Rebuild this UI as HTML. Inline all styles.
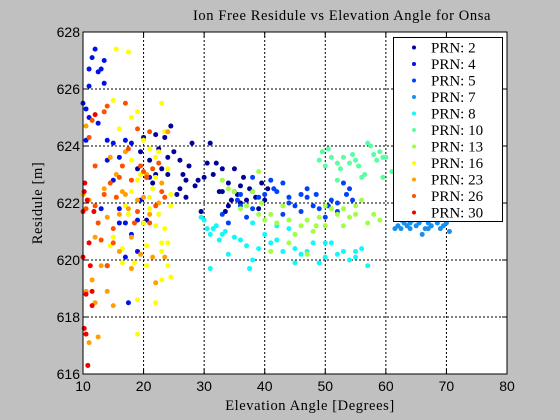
<!DOCTYPE html>
<html><head><meta charset="utf-8"><style>
html,body{margin:0;padding:0;background:#c0c0c0;}
svg{display:block;}
text{fill:#000;}
</style></head><body>
<svg id="chart" width="560" height="420" xmlns="http://www.w3.org/2000/svg" font-family="Liberation Sans, sans-serif">
<rect x="0" y="0" width="560" height="420" fill="#c0c0c0"/>
<rect x="83" y="32" width="424" height="342" fill="#fff"/>
<g id="grid"></g><g id="marks"></g><g id="axes"></g>
<text x="342" y="20" text-anchor="middle" font-family="Liberation Serif, serif" font-size="14.5" letter-spacing="0.6">Ion Free Residule vs Elevation Angle for Onsa</text>
<text x="310" y="410" text-anchor="middle" font-family="Liberation Serif, serif" font-size="14.5" letter-spacing="0.6">Elevation Angle [Degrees]</text>
<text transform="translate(42,203) rotate(-90)" text-anchor="middle" font-family="Liberation Serif, serif" font-size="14.5" letter-spacing="0.6">Residule [m]</text>
<g id="legend"></g>
</svg>
<script>
const xTicks=[10,20,30,40,50,60,70,80];
const yTicks=[616,618,620,622,624,626,628];
const seriesNames=["PRN: 2","PRN: 4","PRN: 5","PRN: 7","PRN: 8","PRN: 10","PRN: 13","PRN: 16","PRN: 23","PRN: 26","PRN: 30"];
const seriesColors=["#00009c","#0010e8","#0040ff","#1890f0","#10f8f8","#58ffa0","#a0ff40","#ffff00","#ffa000","#ff5000","#f00000"];
const p2=[[19,623.2],[19.5,623.8],[20,624.3],[20.5,622.9],[21,623.5],[21.5,622.7],[22,624.4],[22.5,623.9],[23,623.2],[23.5,624.3],[24,623],[24.5,624.7],[25,623.8],[25.5,622.3],[26,622.5],[26.5,623],[27,622.8],[27.5,623.3],[28,624.1],[28.5,622.6],[29,622.8],[29.5,621.7],[30,622.9],[30.5,623.4],[31,624.1],[31.5,623],[32,623.4],[32.5,622.4],[33,623.2],[33.5,621.7],[34,622.7],[34.5,622.1],[35,623.2],[35.5,622.3],[36,622.6],[36.5,622.9],[37,622.1],[37.5,622.5],[38,622.4],[38.5,622.2],[39,621.8],[39.5,622.7],[40,622.1],[40.5,622.5],[33,622.4],[34,621.9],[36,622.0],[26,623.5],[27,622.2],[22,623.0],[20.5,621.4],[24,623.6]];
const p4=[[10,625.5],[10.5,624.2],[11,626.7],[11.5,627.1],[11,626.1],[12,627.4],[12.5,626.6],[13,626.7],[13.5,627],[13.5,626.2],[10.5,625.3],[12.5,624.8],[11,625],[14,624.2],[15,624.1],[16,623.6],[17,624.2],[18,624.1],[14,623.5],[15,622.8],[16,621.3],[17,621.3],[18,620.9],[19,620.3],[17,620.1],[16,621.8],[14,619.8],[17.5,618.5],[13,621.8],[19,621.4],[20,621.3],[21,622.9],[19.5,622.1]];
const p5=[[33,621.6],[34,621.3],[35,622.4],[35.5,622.1],[36,621.9],[37,621.5],[38,621.8],[39,622.2],[40,622.3],[41,622.8],[42,622.4],[43,622.7],[44,622.2],[45,621.9],[46,622.3],[47,622.5],[48,621.9],[48.5,622.3],[49,621.8],[50,621.5],[51,622.1],[52,622],[53,622.7],[53.5,622.3],[54,622.5],[54.5,622.1],[52,621.7],[46,621.7],[44,622],[41.5,622.5],[50.5,621.9],[47,622.2],[43,621.6],[38,622.9],[36,622.3]];
const p7=[[61.5,621.1],[62,621.2],[62.5,621.4],[63,621.3],[63.5,621.2],[64,621.1],[64.5,621.4],[65,621.2],[65.5,621.3],[66,620.9],[66.5,621.1],[67,621.3],[67.5,621.2],[68,621.5],[68.5,621.3],[69,621.1],[69.5,621.2],[70,621.3],[70.5,621],[64,621.3],[67,621.1],[62.5,621.1]];
const p8=[[29.5,621.5],[30,621.4],[30.5,621.1],[31,620.9],[31.5,621.1],[32,621.2],[32.5,620.7],[33,620.9],[33.5,621.0],[34,620.2],[35,620.8],[36,620.7],[37,620.5],[37.5,619.7],[38,620.0],[39,620.4],[40,620.9],[41,620.6],[42,620.7],[43,620.3],[44,621.1],[45,620.4],[46,620.2],[47,620.3],[48,620.6],[49,619.9],[50,620.1],[51,620.6],[52,620.2],[53,620.3],[54,620.0],[55,620.1],[56,620.4],[57,619.8],[55,620.3],[50,620.6],[45,619.9],[31,619.7],[38,621.3],[42,621.2]];
const p10=[[49,623.5],[49.5,623.8],[50,623.3],[50.5,623.9],[51,623.6],[52,623.4],[52.5,623.2],[53,623.6],[54,623.4],[54.5,623.7],[55,623.5],[55.5,623.3],[56,622.9],[57,624.1],[57.5,624.0],[58,623.7],[58.5,623.5],[59,623.8],[59.5,623.6],[60,623.6],[61,623.1],[56.5,623.0],[59.5,622.9],[52,622.8]];
const p13=[[33,622.8],[34,622.5],[35,622.4],[36,621.8],[37,621.9],[38,622.4],[39,623.1],[39.5,622.0],[40,621.4],[41,621.6],[42,621.3],[43,621.9],[44,621.4],[45,620.9],[46,621.2],[47,621.4],[48,621.0],[48.5,621.2],[49,621.5],[50,621.9],[51,621.8],[52,621.6],[53,621.2],[54,621.5],[55,621.9],[56,622.1],[57,621.3],[58,621.6],[59,621.4],[55,621.6],[50,621.2],[44,620.6],[47,620.2],[53,621.8],[39,621.6],[41,620.3]];
const p16=[[15.5,627.4],[17.5,627.3],[15,625.6],[16,624.6],[18,625],[19,625.2],[20,624.2],[21,623.9],[22,623.6],[22.5,623.8],[23,625.5],[23.5,624.5],[24,623.2],[24.5,622.3],[17,621.9],[17.5,621.6],[18,622.4],[19,622.8],[20,621.3],[20.5,620.5],[21,621.8],[21.5,622.5],[22,621.2],[22.5,621.6],[23,620.6],[23.5,621.1],[24,620.6],[24.5,621.9],[23,620.3],[24,619.8],[24.5,619.4],[23,619.3],[19,618.6],[19,617.4],[22,618.5],[18.5,619.9],[16.5,620.4],[15,620.8],[14.5,620.5],[16.5,619.9],[20.5,619.8],[21,622.2],[22,622.9],[18,623.5],[19.5,623.0]];
const p23=[[10,622.3],[10.5,624.7],[11,622.1],[11.5,619.3],[12,618.5],[12.5,617.3],[13,619.8],[13.5,622.5],[14,618.9],[14.5,623.6],[15,618.4],[15.5,623.0],[16,621.6],[16.5,622.4],[17,622.3],[17.5,621.8],[18,620.8],[19,622.1],[19.5,620.2],[20,622.2],[20.5,623.0],[21,621.6],[21.5,620.1],[22,619.2],[22.5,622.0],[23,622.7],[23.5,620.1],[24,624.5],[10.5,618.9],[11,617.1],[12,620.8],[14,621.5],[16,620.3],[18,619.7],[17,623.8]];
const p26=[[10.5,621.8],[11,624.3],[11.5,624.9],[12,623.3],[12.5,621.3],[13,620.7],[13.5,625.2],[14,625.4],[14.5,622.7],[15,621.1],[15.5,622.2],[16,622.9],[16.5,623.3],[17,625.5],[17.5,623.9],[18,622.8],[18.5,621.3],[19,624.6],[19.5,623.3],[20,623.1],[20.5,622.9],[21,624.5],[21.5,623.2],[22,621.9],[22.5,623.4],[23,622.4],[23.5,622.2],[21,621.3],[15,620.6],[14,619.8],[19,621.7],[12,621.9],[13.5,622.3]];
const p30=[[10,621.7],[10,620.1],[10.2,622.4],[10.5,618.8],[10.5,617.4],[10.8,616.3],[11,620.6],[11.2,619.8],[11.5,618.4],[11.8,621.7],[12,625.1],[10.2,617.6],[10.3,622.7],[11.5,618.9],[10.7,622.1]];
const seriesData=[p2,p4,p5,p7,p8,p10,p13,p16,p23,p26,p30];

const NS="http://www.w3.org/2000/svg";
const L=83,R=507,T=32,B=374;
const xMin=10,xMax=80,yMin=616,yMax=628;
function sx(v){return L+(v-xMin)/(xMax-xMin)*(R-L);}
function sy(v){return B-(v-yMin)/(yMax-yMin)*(B-T);}
function mk(tag,attrs,parent){const e=document.createElementNS(NS,tag);for(const k in attrs)e.setAttribute(k,attrs[k]);parent.appendChild(e);return e;}
const grid=document.getElementById('grid'),axes=document.getElementById('axes'),marks=document.getElementById('marks'),legend=document.getElementById('legend');
xTicks.forEach(t=>{const x=sx(t);
 if(t>xMin&&t<xMax){const g=mk('line',{x1:x,x2:x,y1:T,y2:B,stroke:'#000','stroke-width':1,'stroke-dasharray':'2,2'},grid);
 
 }
 mk('line',{x1:x,x2:x,y1:B,y2:B-5,stroke:'#000'},axes);
 mk('line',{x1:x,x2:x,y1:T,y2:T+5,stroke:'#000'},axes);
 const tx=mk('text',{x:x,y:B+17,'text-anchor':'middle','font-size':14},axes);tx.textContent=t;
 
 
});
yTicks.forEach(t=>{const y=sy(t);
 if(t>yMin&&t<yMax){const g=mk('line',{x1:L,x2:R,y1:y,y2:y,stroke:'#000','stroke-width':1,'stroke-dasharray':'2,2'},grid);
 
 }
 mk('line',{x1:L,x2:L+5,y1:y,y2:y,stroke:'#000'},axes);
 mk('line',{x1:R,x2:R-5,y1:y,y2:y,stroke:'#000'},axes);
 const tx=mk('text',{x:L-3,y:y+5,'text-anchor':'end','font-size':14},axes);tx.textContent=t;
 
 
});
mk('rect',{x:L,y:T,width:R-L,height:B-T,fill:'none',stroke:'#000','stroke-width':1},axes);
seriesData.forEach((pts,i)=>{
 const g=mk('g',{fill:seriesColors[i]},marks);
 
 
 pts.forEach(p=>{const c=mk('circle',{cx:sx(p[0]),cy:sy(p[1]),r:2.5},g);
  
  });
});
mk('rect',{x:393.5,y:37.5,width:109,height:184,fill:'#fff',stroke:'#000'},legend);
seriesNames.forEach((n,i)=>{const y=47.5+i*16.5;
 const e=mk('g',{},legend);
 
 
 mk('circle',{cx:414,cy:y,r:2,fill:seriesColors[i]},e);
 const t=mk('text',{x:431,y:y+5,'font-size':15,'font-family':'Liberation Serif, serif'},e);t.textContent=n;
});
</script>
</body></html>
